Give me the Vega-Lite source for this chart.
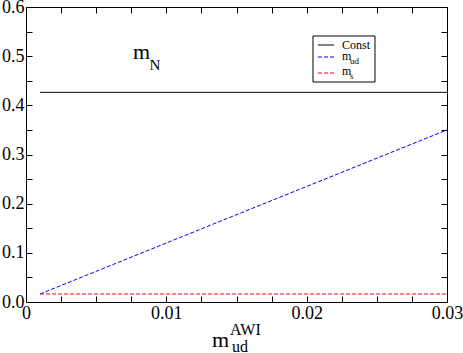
{
  "$schema": "https://vega.github.io/schema/vega-lite/v6.json",
  "width": 421,
  "height": 295,
  "autosize": {"type": "none"},
  "padding": {"left": 26, "top": 7, "right": 16, "bottom": 51},
  "background": "white",
  "config": {
    "view": {"stroke": null},
    "axis": {
      "grid": false,
      "title": null,
      "domainColor": "#000000",
      "domainWidth": 1,
      "tickColor": "#000000",
      "tickWidth": 1,
      "labelColor": "#000000",
      "labelFont": "Liberation Serif",
      "labelFontSize": 18,
      "labelFlush": false,
      "labelOverlap": false,
      "labelBound": false
    },
    "text": {"font": "Liberation Serif", "color": "#000000", "align": "left", "baseline": "alphabetic"}
  },
  "datasets": {
    "curves": [
      {"series": "Const", "x": 0.001, "y": 0.4264},
      {"series": "Const", "x": 0.03, "y": 0.4264},
      {"series": "m_ud", "x": 0.001, "y": 0.0163},
      {"series": "m_ud", "x": 0.01, "y": 0.12},
      {"series": "m_ud", "x": 0.02, "y": 0.235},
      {"series": "m_ud", "x": 0.03, "y": 0.35},
      {"series": "m_s", "x": 0.001, "y": 0.0163},
      {"series": "m_s", "x": 0.03, "y": 0.0163}
    ]
  },
  "data": {"values": [{"one": 1}]},
  "layer": [
    {
      "data": {"name": "curves"},
      "mark": {"type": "line", "strokeWidth": 1, "clip": false},
      "encoding": {
        "x": {
          "field": "x", "type": "quantitative",
          "scale": {"domain": [0, 0.03], "nice": false, "zero": false},
          "axis": {
            "orient": "bottom",
            "values": [0, 0.0025, 0.005, 0.0075, 0.01, 0.0125, 0.015, 0.0175, 0.02, 0.0225, 0.025, 0.0275, 0.03],
            "ticks": true,
            "tickSize": -6,
            "tickColor": "#000000",
            "labelFont": "Liberation Serif",
            "labelExpr": "abs(datum.value*100-round(datum.value*100))<0.001 ? (datum.value==0 ? '0' : format(datum.value,'.2f')) : ''",
            "labelPadding": 8
          }
        },
        "y": {
          "field": "y", "type": "quantitative",
          "scale": {"domain": [0, 0.6], "nice": false, "zero": false},
          "axis": {
            "orient": "left",
            "values": [0, 0.05, 0.1, 0.15, 0.2, 0.25, 0.3, 0.35, 0.4, 0.45, 0.5, 0.55, 0.6],
            "ticks": true,
            "tickSize": -6,
            "tickColor": "#000000",
            "labelFont": "Liberation Serif",
            "labelExpr": "abs(datum.value*10-round(datum.value*10))<0.001 ? format(datum.value,'.1f') : ''",
            "labelPadding": 8
          }
        },
        "color": {"field": "series", "type": "nominal", "scale": {"domain": ["Const", "m_ud", "m_s"], "range": ["#000000", "#0000ff", "#ff0000"]}, "legend": null},
        "strokeDash": {"field": "series", "type": "nominal", "scale": {"domain": ["Const", "m_ud", "m_s"], "range": [[1, 0], [4, 2], [4, 2]]}, "legend": null}
      }
    },
    {
      "mark": {"type": "rect", "fill": "white", "stroke": "#000000", "strokeWidth": 1},
      "encoding": {
        "x": {
          "datum": 0.020451, "type": "quantitative",
          "axis": {
            "orient": "top",
            "values": [0, 0.0025, 0.005, 0.0075, 0.01, 0.0125, 0.015, 0.0175, 0.02, 0.0225, 0.025, 0.0275, 0.03],
            "ticks": true,
            "tickSize": -6,
            "tickColor": "#000000",
            "labels": false
          }
        },
        "x2": {"datum": 0.024869},
        "y": {
          "datum": 0.54102, "type": "quantitative",
          "axis": {
            "orient": "right",
            "values": [0, 0.05, 0.1, 0.15, 0.2, 0.25, 0.3, 0.35, 0.4, 0.45, 0.5, 0.55, 0.6],
            "ticks": true,
            "tickSize": -6,
            "tickColor": "#000000",
            "labels": false
          }
        },
        "y2": {"datum": 0.44746}
      }
    },
    {
      "mark": {"type": "rule", "stroke": "#000000", "strokeWidth": 1},
      "encoding": {"x": {"datum": 0.020808, "type": "quantitative", "axis": null}, "x2": {"datum": 0.021948}, "y": {"datum": 0.52271, "type": "quantitative", "axis": null}}
    },
    {
      "mark": {"type": "rule", "stroke": "#0000ff", "strokeWidth": 1, "strokeDash": [4, 2]},
      "encoding": {"x": {"datum": 0.020808, "type": "quantitative", "axis": null}, "x2": {"datum": 0.021948}, "y": {"datum": 0.4983, "type": "quantitative", "axis": null}}
    },
    {
      "mark": {"type": "rule", "stroke": "#ff0000", "strokeWidth": 1, "strokeDash": [4, 2]},
      "encoding": {"x": {"datum": 0.020808, "type": "quantitative", "axis": null}, "x2": {"datum": 0.021948}, "y": {"datum": 0.46576, "type": "quantitative", "axis": null}}
    },
    {
      "mark": {"type": "text", "text": "Const", "fontSize": 12},
      "encoding": {"x": {"datum": 0.022518, "type": "quantitative", "axis": null}, "y": {"datum": 0.51356, "type": "quantitative", "axis": null}}
    },
    {
      "mark": {"type": "text", "text": "m", "fontSize": 12},
      "encoding": {"x": {"datum": 0.022518, "type": "quantitative", "axis": null}, "y": {"datum": 0.4922, "type": "quantitative", "axis": null}}
    },
    {
      "mark": {"type": "text", "text": "ud", "fontSize": 9},
      "encoding": {"x": {"datum": 0.023088, "type": "quantitative", "axis": null}, "y": {"datum": 0.48407, "type": "quantitative", "axis": null}}
    },
    {
      "mark": {"type": "text", "text": "m", "fontSize": 12},
      "encoding": {"x": {"datum": 0.022518, "type": "quantitative", "axis": null}, "y": {"datum": 0.46169, "type": "quantitative", "axis": null}}
    },
    {
      "mark": {"type": "text", "text": "s", "fontSize": 9},
      "encoding": {"x": {"datum": 0.023088, "type": "quantitative", "axis": null}, "y": {"datum": 0.45356, "type": "quantitative", "axis": null}}
    },
    {
      "mark": {"type": "text", "text": "m", "fontSize": 22},
      "encoding": {"x": {"datum": 0.0076247, "type": "quantitative", "axis": null}, "y": {"datum": 0.49424, "type": "quantitative", "axis": null}}
    },
    {
      "mark": {"type": "text", "text": "N", "fontSize": 15},
      "encoding": {"x": {"datum": 0.0088, "type": "quantitative", "axis": null}, "y": {"datum": 0.47288, "type": "quantitative", "axis": null}}
    },
    {
      "mark": {"type": "text", "text": "m", "fontSize": 22},
      "encoding": {"x": {"datum": 0.013254, "type": "quantitative", "axis": null}, "y": {"datum": -0.091525, "type": "quantitative", "axis": null}}
    },
    {
      "mark": {"type": "text", "text": "AWI", "fontSize": 16},
      "encoding": {"x": {"datum": 0.014537, "type": "quantitative", "axis": null}, "y": {"datum": -0.067119, "type": "quantitative", "axis": null}}
    },
    {
      "mark": {"type": "text", "text": "ud", "fontSize": 16},
      "encoding": {"x": {"datum": 0.014679, "type": "quantitative", "axis": null}, "y": {"datum": -0.10068, "type": "quantitative", "axis": null}}
    }
  ],
  "resolve": {"axis": {"x": "independent", "y": "independent"}}
}
